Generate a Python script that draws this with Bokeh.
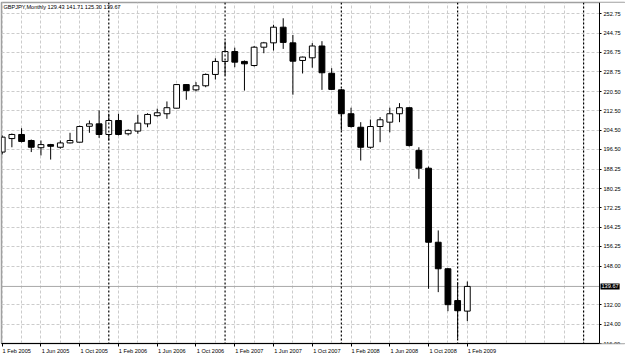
from bokeh.plotting import figure
from bokeh.models import Range1d, FixedTicker, NumeralTickFormatter, Span, Label, ColumnDataSource
from bokeh.embed import file_html
from bokeh.resources import INLINE

# ---- data (GBPJPY monthly, Feb 2005 .. Feb 2009) ----
months = ["2005-02", "2005-03", "2005-04", "2005-05", "2005-06", "2005-07", "2005-08", "2005-09",
          "2005-10", "2005-11", "2005-12", "2006-01", "2006-02", "2006-03", "2006-04", "2006-05",
          "2006-06", "2006-07", "2006-08", "2006-09", "2006-10", "2006-11", "2006-12", "2007-01",
          "2007-02", "2007-03", "2007-04", "2007-05", "2007-06", "2007-07", "2007-08", "2007-09",
          "2007-10", "2007-11", "2007-12", "2008-01", "2008-02", "2008-03", "2008-04", "2008-05",
          "2008-06", "2008-07", "2008-08", "2008-09", "2008-10", "2008-11", "2008-12", "2009-01",
          "2009-02"]
opens = [195.4, 201.0, 202.7, 200.2, 197.2, 198.5, 197.4, 199.2, 199.5, 206.1, 207.1, 202.7,
         208.5, 203.0, 204.1, 207.1, 210.5, 211.3, 213.6, 223.4, 221.2, 222.9, 227.6, 233.0,
         237.1, 233.0, 231.3, 238.9, 240.7, 247.2, 240.7, 233.4, 234.5, 239.4, 228.1, 221.2,
         211.3, 205.7, 197.4, 206.0, 207.8, 211.3, 213.8, 196.1, 188.7, 158.0, 147.0, 133.8,
         129.43]
highs = [202.3, 203.1, 205.3, 200.6, 200.2, 198.8, 200.2, 203.4, 206.4, 208.5, 212.7, 211.3,
         211.3, 204.8, 210.9, 211.5, 213.4, 216.4, 223.6, 223.6, 224.4, 228.0, 234.3, 241.3,
         238.7, 233.4, 239.4, 241.1, 248.2, 250.9, 244.0, 235.0, 240.6, 241.4, 230.2, 221.6,
         213.8, 207.8, 208.9, 209.9, 213.8, 215.7, 214.0, 197.4, 189.4, 162.9, 147.3, 141.4,
         141.71]
lows = [194.4, 197.4, 199.4, 195.4, 194.0, 192.3, 196.8, 199.0, 199.4, 203.4, 201.3, 200.2,
        202.3, 202.3, 203.0, 205.7, 210.1, 209.2, 213.5, 217.1, 220.6, 222.3, 225.5, 227.2,
        230.6, 220.9, 230.9, 236.4, 237.5, 238.2, 219.2, 228.0, 230.4, 221.2, 221.2, 204.4,
        205.6, 191.9, 196.8, 199.5, 203.6, 207.8, 197.7, 184.3, 138.7, 137.3, 129.4, 118.0,
        125.30]
closes = [201.6, 202.7, 199.8, 197.4, 198.5, 197.8, 199.2, 200.2, 206.0, 207.1, 202.7, 208.5,
          202.7, 204.4, 207.4, 211.0, 211.7, 213.8, 223.4, 220.9, 222.9, 227.6, 233.0, 237.1,
          232.7, 232.0, 238.9, 240.7, 247.2, 240.9, 233.1, 234.8, 239.4, 228.3, 221.4, 211.3,
          206.0, 197.4, 206.0, 208.8, 211.3, 213.8, 198.1, 188.7, 158.0, 147.0, 132.1, 129.6,
          139.67]
x_tick_labels = ["1 Feb 2005", "1 Jun 2005", "1 Oct 2005", "1 Feb 2006", "1 Jun 2006",
                 "1 Oct 2006", "1 Feb 2007", "1 Jun 2007", "1 Oct 2007", "1 Feb 2008",
                 "1 Jun 2008", "1 Oct 2008", "1 Feb 2009"]
y_ticks = [116.00, 124.00, 132.00, 148.00, 156.25, 164.25, 172.25, 180.25, 188.25, 196.50,
           204.50, 212.50, 220.50, 228.75, 236.75, 244.75, 252.75]
symbol = "GBPJPY,Monthly"
separators = [11, 23, 35, 47, 60]

# ---- layout ----
FONT = "Liberation Sans"
FS = "5.6px"
idx = list(range(len(months)))

PX_PER_BAR = 9.69
X0 = -0.072
X_END = X0 + 624 / PX_PER_BAR          # frame spans the full width (1..625 px)
AXIS_X = X0 + 598 / PX_PER_BAR         # price scale sits at ~599 px
Y0, Y1 = 116.0, 257.44

p = figure(width=625, height=356, x_range=Range1d(X0, X_END), y_range=Range1d(Y0, Y1),
           y_axis_location="right", output_backend="svg", toolbar_location=None,
           min_border_left=1, min_border_right=0, min_border_top=2, min_border_bottom=13,
           background_fill_color="white", border_fill_color="white")
p.outline_line_color = "#a0a0a0"
p.outline_line_width = 1.5

# grids
p.xgrid.ticker = FixedTicker(ticks=list(range(0, 62, 2)))
p.ygrid.ticker = FixedTicker(ticks=y_ticks)
for g in (p.xgrid, p.ygrid):
    g.grid_line_color = "#cccccc"
    g.grid_line_dash = "3 2"
    g.grid_line_width = 1

# bid line (under the price-scale mask)
p.add_layout(Span(location=closes[-1], dimension="width", line_color="#a8a8a8",
                  line_width=1, level="underlay"))

# white price-scale area right of the axis (hides grid lines there)
p.quad(left=[AXIS_X], right=[X_END], bottom=[Y0], top=[Y1], fill_color="white", line_color=None)

# x axis: labels left-aligned at the tick (label centre shifted), tick marks as minor ticks
label_idx = idx[::4]
shift = 1.5
p.xaxis.ticker = FixedTicker(ticks=[i + shift for i in label_idx], minor_ticks=label_idx)
p.xaxis.major_label_overrides = {i + shift: t for i, t in zip(label_idx, x_tick_labels)}
p.xaxis.major_tick_out = 0
p.xaxis.major_tick_in = 0
p.xaxis.minor_tick_out = 3
p.xaxis.minor_tick_in = 0
p.xaxis.minor_tick_line_color = "black"
p.xaxis.major_label_standoff = 1
p.xaxis.axis_line_color = "black"
p.xaxis.bounds = (X0, AXIS_X)

# y axis (right, fixed at the price-scale position inside the frame)
p.yaxis.fixed_location = AXIS_X
p.yaxis.ticker = FixedTicker(ticks=y_ticks)
p.yaxis.formatter = NumeralTickFormatter(format="0.00")
p.yaxis.major_tick_out = 2
p.yaxis.major_tick_in = 0
p.yaxis.minor_tick_line_color = None
p.yaxis.major_label_standoff = 2
p.yaxis.axis_line_color = "black"

for ax in (p.xaxis, p.yaxis):
    ax.major_label_text_font = FONT
    ax.major_label_text_font_size = FS
    ax.major_label_text_color = "black"

# period separators
for s in separators:
    p.add_layout(Span(location=s, dimension="height", line_color="black",
                      line_dash="2 2", line_width=1.2))

# candles
up = [c >= o for o, c in zip(opens, closes)]
src = ColumnDataSource(dict(
    x=idx, high=highs, low=lows,
    top=[max(o, c) for o, c in zip(opens, closes)],
    bottom=[min(o, c) for o, c in zip(opens, closes)],
    fill=["white" if u else "black" for u in up],
))
p.segment(x0="x", y0="low", x1="x", y1="high", source=src, line_color="black", line_width=1)
p.vbar(x="x", width=0.6, top="top", bottom="bottom", source=src,
       fill_color="fill", line_color="black", line_width=1)

# title text
title = symbol + "  " + " ".join(f"{v:.2f}" for v in (opens[-1], highs[-1], lows[-1], closes[-1]))
p.add_layout(Label(x=X0, y=Y1, x_offset=2, y_offset=-1,
                   text=title, text_font=FONT, text_font_size=FS, text_color="black",
                   text_baseline="top", text_align="left"))

# bid price tag on the price scale
p.add_layout(Label(x=AXIS_X, y=closes[-1], x_offset=1, text=f"{closes[-1]:.2f}",
                   text_font=FONT, text_font_size=FS, text_color="white",
                   text_baseline="middle", text_align="left",
                   background_fill_color="black", padding=1))

open("out.html", "w").write(file_html(p, INLINE))
